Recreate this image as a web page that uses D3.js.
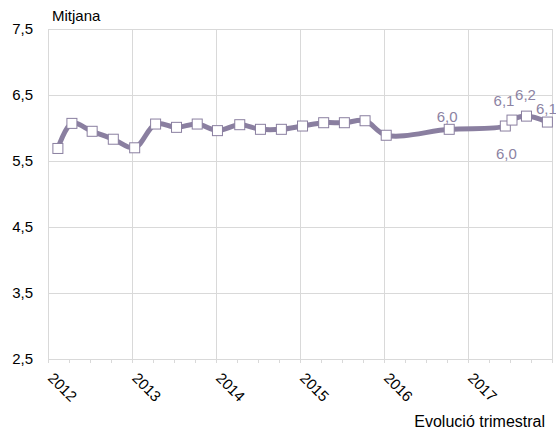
<!DOCTYPE html>
<html>
<head>
<meta charset="utf-8">
<script src="https://cdn.jsdelivr.net/npm/d3@7"></script>
<style>
  body { margin: 0; background: #fff; }
  text { font-family: "Liberation Sans", Arial, sans-serif; }
</style>
</head>
<body>
<svg width="556" height="431"></svg>
<script>
// survey dates (irregular, roughly one per quarter)
var dates = ["2012-02-13", "2012-04-14", "2012-07-11", "2012-10-11",
             "2013-01-12", "2013-04-13", "2013-07-13", "2013-10-11",
             "2014-01-07", "2014-04-14", "2014-07-13", "2014-10-12",
             "2015-01-12", "2015-04-14", "2015-07-13", "2015-10-11",
             "2016-01-11", "2016-10-11",
             "2017-06-12", "2017-07-11", "2017-09-12", "2017-12-12"];
var values = [5.69, 6.07, 5.95, 5.83,
              5.70, 6.06, 6.01, 6.06,
              5.96, 6.05, 5.98, 5.98,
              6.03, 6.08, 6.08, 6.11,
              5.89, 5.98,
              6.03, 6.12, 6.18, 6.09];
// which points carry a value label (index into the arrays above)
var labelled = [17, 18, 19, 20, 21];
var yTicks = [2.5, 3.5, 4.5, 5.5, 6.5, 7.5];
var years = [2012, 2013, 2014, 2015, 2016, 2017, 2018];
var yTitle = "Mitjana";
var xTitle = "Evolució trimestral";

var svg = d3.select("svg"),
    plotLeft = 48, plotRight = 552, plotTop = 29, plotBottom = 359,
    lineColor = "#8a7fa0",
    gridColor = "#d9d9d9";

var parse = d3.timeParse("%Y-%m-%d");
var data = dates.map(function(d, i) { return {date: parse(d), value: values[i]}; });

var x = d3.scaleTime()
    .domain([new Date(2012, 0, 1), new Date(2018, 0, 1)])
    .range([plotLeft, plotRight]);

var y = d3.scaleLinear()
    .domain([2.5, 7.5])
    .range([plotBottom, plotTop]);

var comma = function(v) { return d3.format(".1f")(v).replace(".", ","); };

// horizontal grid + y labels
svg.append("g")
  .selectAll("line")
  .data(yTicks)
  .enter().append("line")
    .attr("x1", plotLeft).attr("x2", plotRight)
    .attr("y1", function(d) { return y(d) + 0.5; })
    .attr("y2", function(d) { return y(d) + 0.5; })
    .attr("stroke", gridColor);

svg.append("g")
  .selectAll("text")
  .data(yTicks)
  .enter().append("text")
    .attr("x", 33)
    .attr("y", function(d) { return y(d); })
    .attr("dy", "0.35em")
    .attr("text-anchor", "end")
    .style("font-size", "15px")
    .text(comma);

// vertical grid at years
var yearDates = years.map(function(d) { return new Date(d, 0, 1); });
svg.append("g")
  .selectAll("line")
  .data(yearDates)
  .enter().append("line")
    .attr("x1", function(d) { return Math.round(x(d)) + 0.5; })
    .attr("x2", function(d) { return Math.round(x(d)) + 0.5; })
    .attr("y1", plotTop).attr("y2", plotBottom + 4)
    .attr("stroke", gridColor);

// quarter tick marks under the axis
svg.append("g")
  .selectAll("line")
  .data(d3.timeMonth.every(3).range(new Date(2012, 0, 1), new Date(2018, 0, 2)))
  .enter().append("line")
    .attr("x1", function(d) { return Math.round(x(d)) + 0.5; })
    .attr("x2", function(d) { return Math.round(x(d)) + 0.5; })
    .attr("y1", plotBottom).attr("y2", plotBottom + 4)
    .attr("stroke", gridColor);

// rotated year labels
svg.append("g")
  .selectAll("text")
  .data(yearDates.slice(0, -1))
  .enter().append("text")
    .attr("transform", function(d) { return "translate(" + (x(d) - 1) + "," + 379 + ") rotate(45)"; })
    .style("font-size", "15px")
    .text(function(d) { return d.getFullYear(); });

svg.append("text")
    .attr("x", 52).attr("y", 21)
    .style("font-size", "15px")
    .text(yTitle);

svg.append("text")
    .attr("x", 545).attr("y", 427)
    .attr("text-anchor", "end")
    .style("font-size", "16px")
    .text(xTitle);

// series
var line = d3.line()
    .x(function(d) { return x(d.date); })
    .y(function(d) { return y(d.value); })
    .curve(d3.curveCatmullRom.alpha(0.5));

svg.append("path")
    .datum(data)
    .attr("fill", "none")
    .attr("stroke", lineColor)
    .attr("stroke-width", 5)
    .attr("stroke-linejoin", "round")
    .attr("d", line);

svg.append("g")
  .selectAll("rect")
  .data(data)
  .enter().append("rect")
    .attr("x", function(d) { return x(d.date) - 5; })
    .attr("y", function(d) { return y(d.value) - 5; })
    .attr("width", 10).attr("height", 10)
    .attr("fill", "#fff")
    .attr("stroke", lineColor)
    .attr("stroke-width", 1);

// value labels (offsets relative to the point)
var labelOffsets = [[-2, -7], [1, 33], [-8, -14], [-1, -16], [-1, -8]];
svg.append("g")
  .selectAll("text")
  .data(labelled)
  .enter().append("text")
    .attr("x", function(d, i) { return x(data[d].date) + labelOffsets[i][0]; })
    .attr("y", function(d, i) { return y(data[d].value) + labelOffsets[i][1]; })
    .attr("text-anchor", "middle")
    .attr("fill", "#8c83a3")
    .style("font-size", "15px")
    .text(function(d) { return comma(data[d].value); });
</script>
</body>
</html>
